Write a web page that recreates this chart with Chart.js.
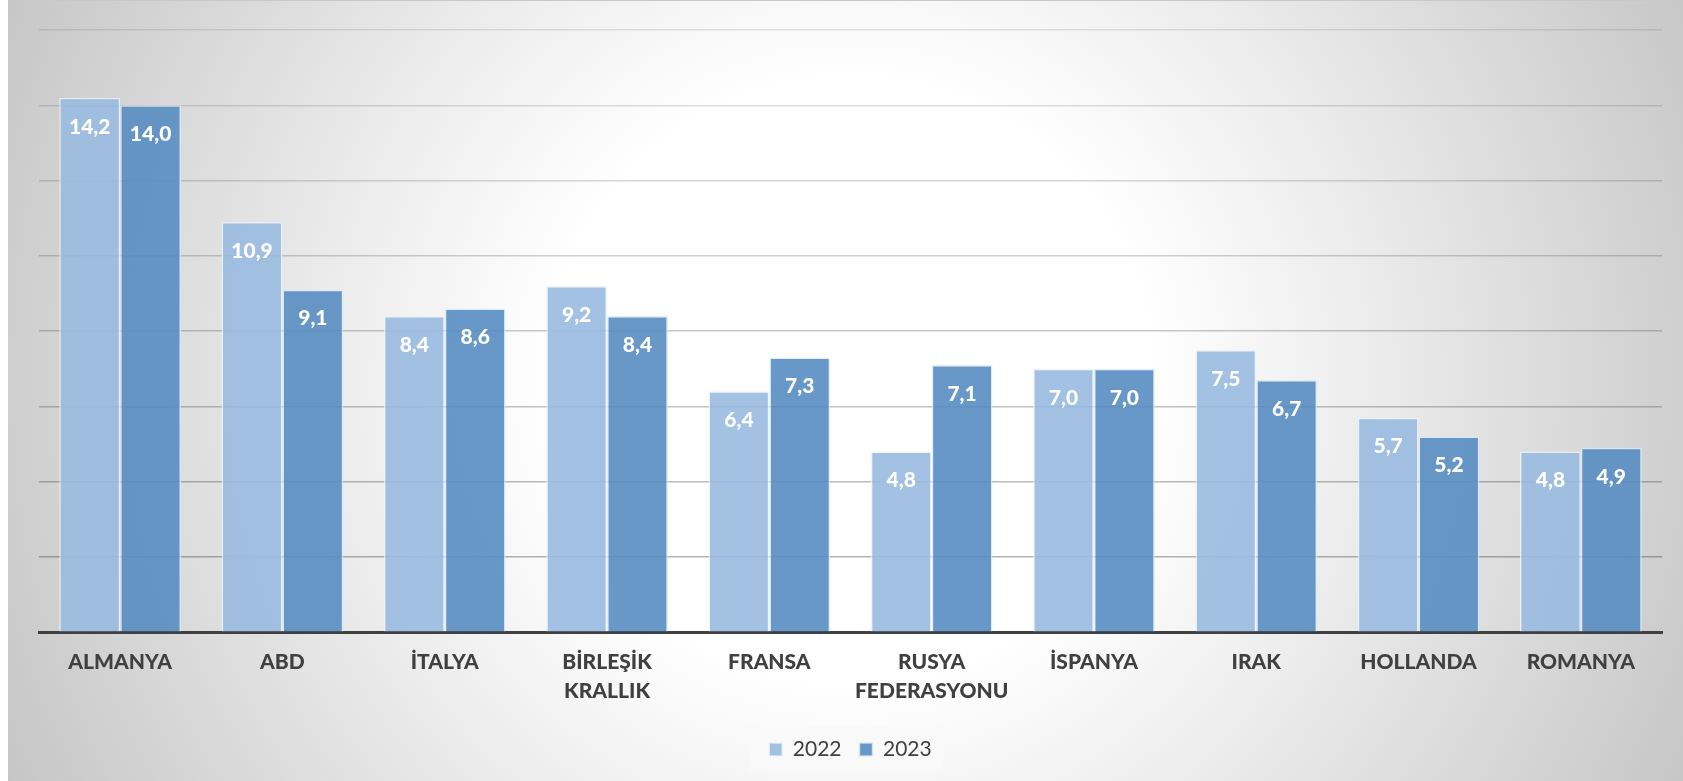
<!DOCTYPE html>
<html>
<head>
<meta charset="utf-8">
<script src="https://cdn.jsdelivr.net/npm/chart.js@4"></script>
<style>
  html, body { margin: 0; padding: 0; background: #fff; }
  #wrap { position: relative; width: 1683px; height: 781px; overflow: hidden; }
  #bg {
    position: absolute; left: 8px; top: 0; right: 0; bottom: 0;
    border-top: 1px solid #c8c8c8;
    background: radial-gradient(circle at 842px 380px, #ffffff 0px, #ffffff 300px, #ececec 520px, #c4c4c4 950px);
  }
  #mycanvas { position: absolute; left: 0; top: 0; }
</style>
</head>
<body>
<div id="wrap">
  <div id="bg"></div>
  <canvas id="mycanvas" width="1683" height="781"></canvas>
</div>
<script>
var countries = ['ALMANYA', 'ABD', 'İTALYA', ['BİRLEŞİK', 'KRALLIK'], 'FRANSA',
  ['RUSYA', 'FEDERASYONU'], 'İSPANYA', 'IRAK', 'HOLLANDA', 'ROMANYA'];
var years = ['2022', '2023'];
var values2022 = [14.2, 10.9, 8.4, 9.2, 6.4, 4.8, 7.0, 7.5, 5.7, 4.8];
var values2023 = [14.0, 9.1, 8.6, 8.4, 7.3, 7.1, 7.0, 6.7, 5.2, 4.9];

var fontFamily = 'Lato, "Open Sans", sans-serif';

// white value labels inside the top of each bar
var valueLabels = {
  id: 'valueLabels',
  afterDatasetsDraw: function(chart) {
    var ctx = chart.ctx;
    ctx.save();
    ctx.fillStyle = '#ffffff';
    ctx.font = '900 21px ' + fontFamily;
    ctx.textAlign = 'center';
    ctx.textBaseline = 'middle';
    chart.data.datasets.forEach(function(ds, i) {
      chart.getDatasetMeta(i).data.forEach(function(bar, j) {
        ctx.fillText(ds.data[j].toFixed(1).replace('.', ','), bar.x, bar.y + 29);
      });
    });
    ctx.restore();
  }
};

// light box behind the legend
var legendBox = {
  id: 'legendBox',
  beforeDraw: function(chart) {
    var boxes = chart.legend && chart.legend.legendHitBoxes;
    if (!boxes || !boxes.length) return;
    var first = boxes[0], last = boxes[boxes.length - 1];
    var cy = first.top + first.height / 2;
    var ctx = chart.ctx;
    ctx.save();
    ctx.fillStyle = 'rgba(248,248,248,0.9)';
    ctx.fillRect(first.left - 20, cy - 23, last.left + last.width - first.left + 32, 46);
    ctx.restore();
  }
};

var chartdata = {
  labels: countries,
  datasets: [
    {
      label: years[0],
      backgroundColor: 'rgba(152,186,224,0.9)',
      borderColor: 'rgba(235,242,250,0.8)',
      borderWidth: 1.5,
      data: values2022
    },
    {
      label: years[1],
      backgroundColor: 'rgba(86,141,194,0.9)',
      borderColor: 'rgba(220,232,245,0.8)',
      borderWidth: 1.5,
      data: values2023
    }
  ]
};

var ctx = document.getElementById('mycanvas');

var barGraph = new Chart(ctx, {
  type: 'bar',
  data: chartdata,
  plugins: [valueLabels, legendBox],
  options: {
    responsive: false,
    animation: false,
    layout: { padding: { left: 39, right: 21, top: 30, bottom: 11 } },
    datasets: { bar: { categoryPercentage: 0.75, barPercentage: 1.0 } },
    scales: {
      x: {
        grid: { display: false, drawTicks: false },
        border: { display: true, color: '#404040', width: 3 },
        ticks: {
          color: '#404040',
          font: { family: fontFamily, size: 21, weight: '900', lineHeight: 1.4 },
          padding: 15,
          maxRotation: 0,
          autoSkip: false
        }
      },
      y: {
        min: 0,
        max: 16,
        ticks: { display: false, stepSize: 2 },
        border: { display: false },
        grid: {
          drawTicks: false,
          lineWidth: 1.5,
          color: function(c) {
            var v = c.tick ? c.tick.value : 0;
            var a = 0.42 - v * 0.018;
            return 'rgba(60,60,60,' + a.toFixed(3) + ')';
          }
        }
      }
    },
    plugins: {
      legend: {
        position: 'bottom',
        labels: {
          boxWidth: 13,
          boxHeight: 13,
          padding: 18,
          color: '#404040',
          font: { family: fontFamily, size: 21, lineHeight: 1.0 }
        }
      },
      tooltip: { enabled: false }
    }
  }
});
</script>
</body>
</html>
